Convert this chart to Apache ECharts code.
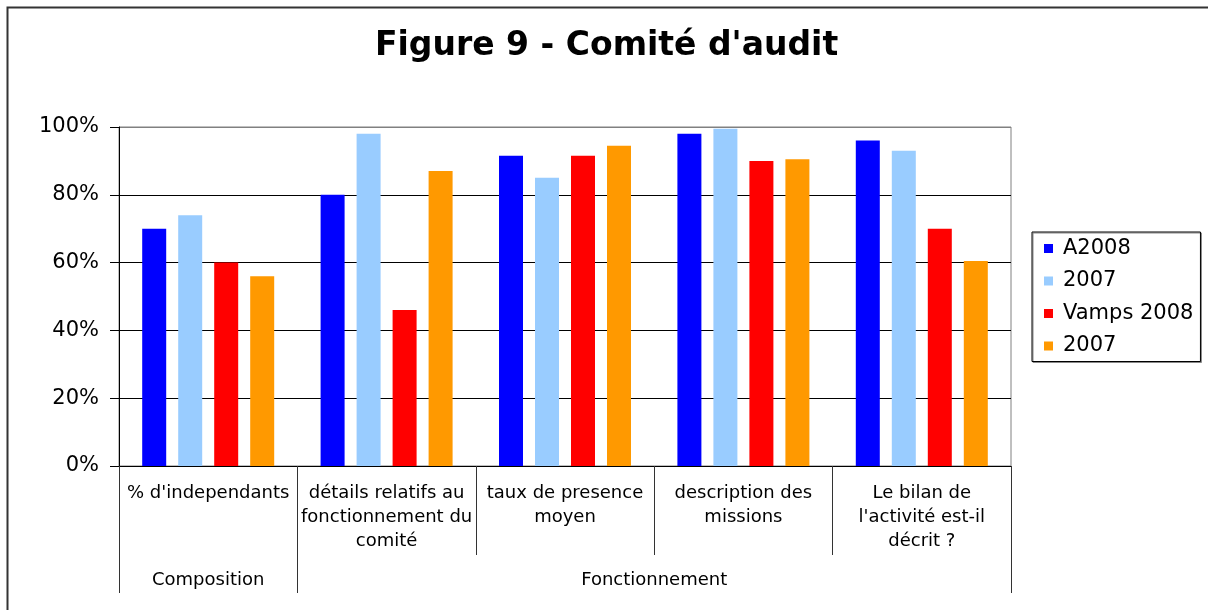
<!DOCTYPE html>
<html>
<head>
<meta charset="utf-8">
<script src="https://cdn.jsdelivr.net/npm/echarts@6/dist/echarts.min.js"></script>
<style>html,body{margin:0;padding:0;background:#fff}#c{width:1208px;height:610px}</style>
</head>
<body>
<div id="c"></div>
<script>
const categories = ["% d'independants", "détails relatifs au\nfonctionnement du\ncomité", "taux de presence\nmoyen", "description des\nmissions", "Le bilan de\nl'activité est-il\ndécrit ?"];
const groups = ["Composition", "Fonctionnement"];
const groupSpans = [1, 4];
const legendLabels = ["A2008", "2007", "Vamps 2008", "2007"];
const seriesKeys = ["A2008", "A2007", "V2008", "V2007"];
const a2008 = [70, 80, 91.5, 98, 96];
const a2007 = [74, 98, 85, 99.5, 93];
const vamps2008 = [60, 46, 91.5, 90, 70];
const vamps2007 = [56, 87, 94.5, 90.5, 60.5];
const yTicks = [0, 20, 40, 60, 80, 100];
const colors = ["#0000FF", "#99CCFF", "#FF0000", "#FF9900"];

const values = [a2008, a2007, vamps2008, vamps2007];
const bounds = [0];
const centers = [];
groupSpans.forEach((s, i) => { centers.push(bounds[i] + s / 2); bounds.push(bounds[i] + s); });

const font = "DejaVu Sans";
const chart = echarts.init(document.getElementById('c'));
chart.setOption({
  animation: false,
  backgroundColor: '#fff',
  title: {
    text: "Figure 9 - Comité d'audit",
    left: 375, top: 30, padding: 0,
    textStyle: { fontFamily: font, fontSize: 33, fontWeight: 'bold', color: '#000' }
  },
  graphic: [{
    type: 'rect', silent: true, z: -1,
    shape: { x: 7.5, y: 7.5, width: 1400, height: 900 },
    style: { fill: 'none', stroke: '#333', lineWidth: 2 }
  }],
  legend: {
    orient: 'vertical', left: 1032, top: 232,
    padding: [6, 7, 5, 12], itemGap: 11.5,
    itemWidth: 9, itemHeight: 9, icon: 'rect',
    borderColor: '#000', borderWidth: 1, backgroundColor: '#fff',
    shadowColor: '#888', shadowOffsetX: 1, shadowOffsetY: 1, shadowBlur: 0,
    data: seriesKeys,
    formatter: name => legendLabels[seriesKeys.indexOf(name)],
    textStyle: { fontFamily: font, fontSize: 21, lineHeight: 20, color: '#000', padding: [0, 0, 0, 5] }
  },
  grid: {
    left: 119, right: 197, top: 127, bottom: 144,
    show: true, borderColor: '#808080', borderWidth: 1, backgroundColor: 'transparent'
  },
  xAxis: [{
    type: 'category', data: categories, position: 'bottom', z: 5,
    axisLine: { show: true, lineStyle: { color: '#000', width: 1 } },
    axisTick: { show: true, interval: 0, alignWithLabel: false, length: 89, lineStyle: { color: '#333' } },
    axisLabel: { interval: 0, margin: 15, fontFamily: font, fontSize: 18, lineHeight: 24, color: '#000', align: 'center' },
    splitLine: { show: false }
  }, {
    type: 'value', min: 0, max: bounds[bounds.length - 1], position: 'bottom', z: 5,
    axisLine: { show: false },
    axisTick: { show: true, customValues: bounds, length: 127, lineStyle: { color: '#333' } },
    axisLabel: {
      customValues: centers, margin: 102, fontFamily: font, fontSize: 18, lineHeight: 24, color: '#000',
      formatter: v => groups[centers.indexOf(v)] || ''
    },
    splitLine: { show: false }
  }],
  yAxis: {
    type: 'value', min: yTicks[0], max: yTicks[yTicks.length - 1], interval: yTicks[1] - yTicks[0],
    axisLine: { show: true, lineStyle: { color: '#000' } },
    axisTick: { show: true, length: 9, lineStyle: { color: '#000' } },
    axisLabel: { margin: 20, fontFamily: font, fontSize: 21, color: '#000', formatter: '{value}%' },
    splitLine: { show: true, lineStyle: { color: ['#000', '#000', '#000', '#000', '#000', '#808080'], width: 1 } }
  },
  tooltip: { show: false },
  series: seriesKeys.map((k, i) => ({
    name: k, type: 'bar', xAxisIndex: 0, data: values[i],
    barWidth: 24, barGap: '50%',
    itemStyle: { color: colors[i] },
    emphasis: { disabled: true }
  }))
});
</script>
</body>
</html>
